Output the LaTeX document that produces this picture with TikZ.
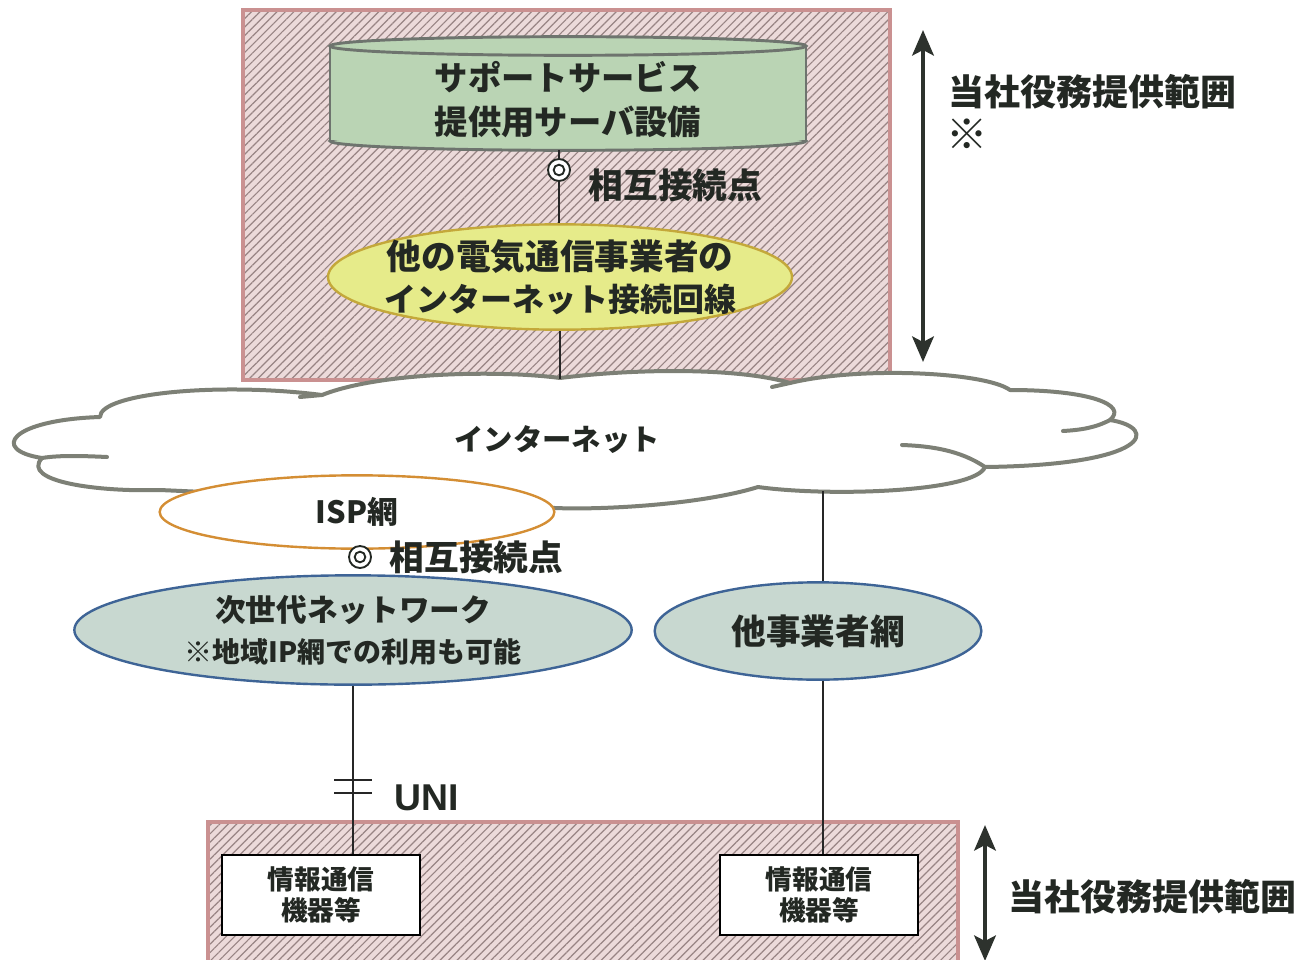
\documentclass[tikz,border=0pt]{standalone}
\usepackage{fontspec}
\newfontfamily\jp{Noto Sans CJK JP}
\newfontfamily\lsans{Liberation Sans}
\usetikzlibrary{patterns.meta,shapes.geometric,arrows.meta}
\definecolor{hbg}{RGB}{236,218,218}
\definecolor{hline}{RGB}{152,132,132}
\definecolor{hborder}{RGB}{202,145,145}
\definecolor{cylfill}{RGB}{186,212,180}
\definecolor{cylline}{RGB}{110,116,110}
\definecolor{yfill}{RGB}{230,235,138}
\definecolor{yline}{RGB}{196,168,58}
\definecolor{cloudline}{RGB}{125,128,118}
\definecolor{ispline}{RGB}{212,142,52}
\definecolor{ngnfill}{RGB}{200,216,208}
\definecolor{ngnline}{RGB}{62,100,150}
\definecolor{txt}{RGB}{35,40,35}
\definecolor{arrowc}{RGB}{45,50,45}
\begin{document}
\begin{tikzpicture}[x=0.75pt,y=-0.75pt,
 every node/.style={text=txt},
 jpb/.style={font=\jp\bfseries},
 hatch/.style={pattern={Lines[angle=45,distance=4.5pt,line width=0.9pt]},pattern color=hline},
 hbox/.style={draw=hborder,line width=3pt},
 wire/.style={draw=black!85,line width=1.5pt},
 ipt/.style={circle,draw=txt,fill=white,line width=1.4pt,minimum size=16.5pt,inner sep=0pt,
   path picture={\draw[txt,line width=1.4pt] (path picture bounding box.center) circle[radius=4pt];}},
 net/.style={ellipse,draw=ngnline,fill=ngnfill,line width=1.8pt,inner sep=0pt,align=center},
 dev/.style={draw=black,fill=white,line width=1.5pt,minimum width=148.5pt,minimum height=60pt,
   align=center,font=\jp\bfseries\fontsize{20}{23}\selectfont},
 rng/.style={draw=arrowc,line width=3.5pt,
   arrows={Stealth[length=19pt,width=16pt,inset=4pt]-Stealth[length=19pt,width=16pt,inset=4pt]}},
 rnglabel/.style={anchor=west,font=\jp\bfseries\fontsize{27}{32}\selectfont},
 cyl/.style={draw=cylline,line width=2.2pt},
 cloudst/.style={draw=cloudline,line width=3pt,line join=round,line cap=round}
 ]
\clip (0,0) rectangle (1308,959);
\fill[white] (0,0) rectangle (1308,959);

% hatched areas
\fill[hbg] (243,10) rectangle (890,380);
\fill[hatch] (243,10) rectangle (890,380);
\draw[hbox] (243,10) rectangle (890,380);
\fill[hbg] (208,822) rectangle (958,980);
\fill[hatch] (208,822) rectangle (958,980);
\draw[hbox] (208,822) rectangle (958,980);

% cylinder
\fill[cylfill] (330,46) rectangle (806,141);
\fill[cylfill] (568,141) ellipse[x radius=178.5pt,y radius=7pt];
\draw[cyl] (330,46) -- (330,141) (806,46) -- (806,141);
\begin{scope}
\clip (300,141) rectangle (840,170);
\draw[cyl] (568,141) ellipse[x radius=178.5pt,y radius=7pt];
\end{scope}
\draw[cyl,fill=cylfill] (568,46) ellipse[x radius=178.5pt,y radius=7pt];
\node[jpb,align=center,minimum width=357pt,minimum height=75pt,inner sep=0pt,
  font=\jp\bfseries\fontsize{25}{33}\selectfont] (srv) at (568,100) {サポートサービス\\提供用サーバ設備};

% yellow ellipse
\node[ellipse,draw=yline,fill=yfill,line width=1.8pt,minimum width=348pt,minimum height=79pt,
  inner xsep=-9pt,inner ysep=-3pt,align=center,font=\jp\bfseries\fontsize{25}{31.5}\selectfont] (yel) at (560,277)
  {{\fontsize{26}{31.5}\selectfont 他の電気通信事業者の}\\{\fontsize{24}{31.5}\selectfont インターネット接続回線}};

% cloud
\coordinate (cloudtop) at (560,379);
\coordinate (cloudbot) at (823,491);
\draw[cloudst,fill=white] (100,417) .. controls (100,393) and (220,382) .. (322,395)
  .. controls (380,372) and (500,370) .. (560,378)
  .. controls (640,368) and (740,368) .. (790,383)
  .. controls (860,366) and (985,372) .. (1010,390)
  .. controls (1090,390) and (1128,405) .. (1110,420)
  .. controls (1160,428) and (1150,465) .. (985,467)
  .. controls (975,492) and (830,497) .. (758,487)
  .. controls (700,505) and (600,510) .. (555,508)
  -- (160,490)
  .. controls (100,492) and (20,482) .. (42,458)
  .. controls (-10,450) and (10,420) .. (100,417) -- cycle;
\draw[cloudst] (985,467) .. controls (960,450) and (930,446) .. (902,445);
\draw[cloudst] (1110,420) .. controls (1095,428) and (1080,430) .. (1063,431);
\draw[cloudst] (42,458) .. controls (60,455) and (85,456) .. (107,457);
\draw[cloudst] (322,395) -- (300,397);
\draw[cloudst] (790,383) -- (772,387);
\node[font=\jp\bfseries\fontsize{22}{26}\selectfont] (inet) at (557,440) {インターネット};

% ISP
\node[ellipse,draw=ispline,fill=white,line width=1.8pt,minimum width=296pt,minimum height=55pt,
  inner sep=0pt,font=\jp\bfseries\fontsize{23}{28}\selectfont] (isp) at (357,512) {ISP網};

% NGN and other
\node[net,minimum width=418pt,minimum height=82pt,font=\jp\bfseries\fontsize{23}{31}\selectfont]
  (ngn) at (353,630) {次世代ネットワーク\\{\fontsize{21}{31}\selectfont ※地域IP網での利用も可能}};
\node[net,minimum width=245pt,minimum height=73pt,font=\jp\bfseries\fontsize{26}{31}\selectfont]
  (oth) at (818,631) {他事業者網};

% devices
\node[dev] (devL) at (321,895) {情報通信\\機器等};
\node[dev] (devR) at (819,895) {情報通信\\機器等};

% interconnection points
\node[ipt] (ip1) at (559,170) {};
\node[anchor=west,font=\jp\bfseries\fontsize{26}{30}\selectfont] (lab1) at (584,185) {相互接続点};
\node[ipt] (ip2) at (360,557) {};
\node[anchor=west,font=\jp\bfseries\fontsize{26}{30}\selectfont] (lab2) at (385,557) {相互接続点};

% connectors
\draw[wire] (ip1.north |- srv.south) -- (ip1.north);
\draw[wire] (ip1.south) -- (ip1.south |- yel.north);
\draw[wire] (yel.south) -- (cloudtop);
\draw[wire] (cloudbot) -- (cloudbot |- oth.north);
\draw[wire] (cloudbot |- oth.south) -- (cloudbot |- devR.north);
\draw[wire] (ngn.south) -- (ngn.south |- devL.north);
\coordinate (uni) at (353,786.5);
\draw[wire] ([xshift=-14pt,yshift=5pt]uni) -- ([xshift=14pt,yshift=5pt]uni);
\draw[wire] ([xshift=-14pt,yshift=-5pt]uni) -- ([xshift=14pt,yshift=-5pt]uni);
\node[anchor=west,font=\lsans\bfseries\fontsize{28}{32}\selectfont] (unilab) at (390,798) {UNI};

% range arrows
\coordinate (rtA) at (923,30);
\coordinate (rtB) at (923,362);
\draw[rng] (rtA) -- (rtB);
\node[rnglabel] (rtlab) at (944,92) {当社役務提供範囲};
\node[anchor=west,font=\jp\bfseries\fontsize{31}{34}\selectfont] (rtmark) at (942,134) {※};
\coordinate (rbA) at (985,825);
\coordinate (rbB) at (985,961);
\draw[rng] (rbA) -- (rbB);
\node[rnglabel] (rblab) at (1004,897) {当社役務提供範囲};
\end{tikzpicture}
\end{document}
